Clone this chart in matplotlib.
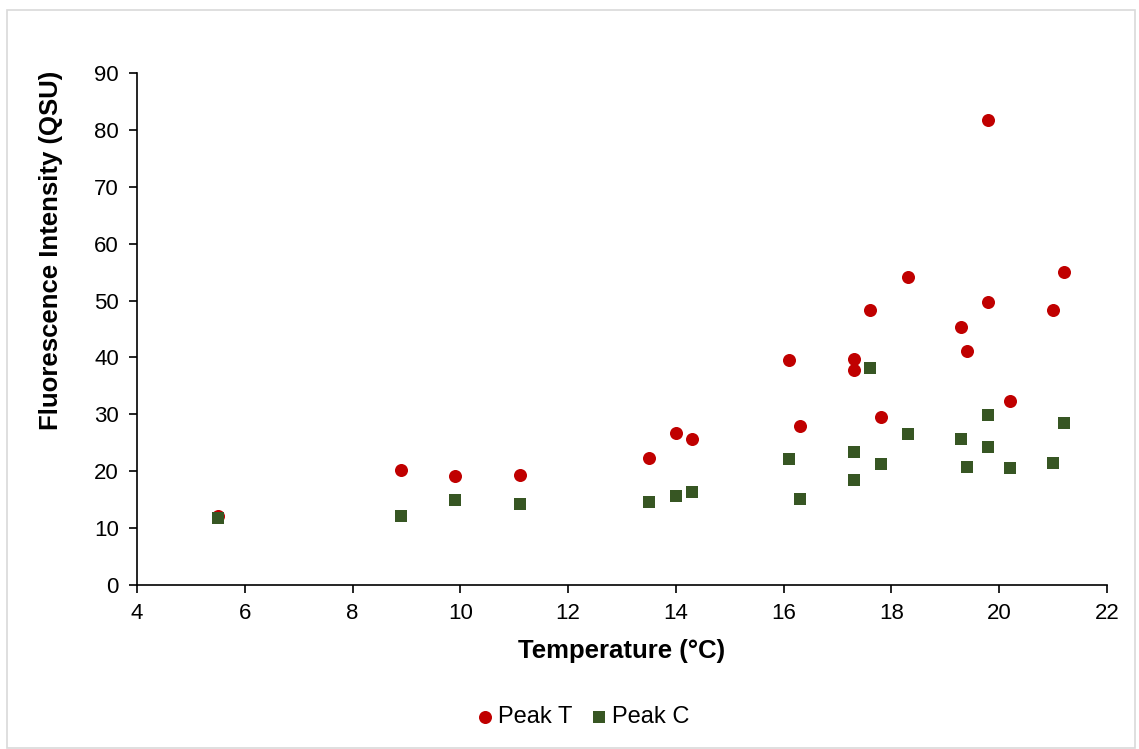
import matplotlib
matplotlib.use("Agg")
import matplotlib.pyplot as plt
from matplotlib.patches import Rectangle

plt.rcParams['font.family'] = ['Liberation Sans', 'DejaVu Sans']

temperature = [5.5, 8.9, 9.9, 11.1, 13.5, 14.0, 14.3, 16.1, 16.3, 17.3, 17.3,
               17.6, 17.8, 18.3, 19.3, 19.4, 19.8, 19.8, 20.2, 21.0, 21.2]
peak_t = [12.2, 20.3, 19.1, 19.4, 22.4, 26.8, 25.7, 39.6, 27.9, 39.7, 37.8,
          48.4, 29.5, 54.1, 45.3, 41.2, 81.8, 49.7, 32.4, 48.3, 55.1]
peak_c = [11.8, 12.2, 14.9, 14.2, 14.6, 15.6, 16.4, 22.1, 15.2, 23.3, 18.4,
          38.2, 21.3, 26.6, 25.6, 20.7, 29.8, 24.2, 20.5, 21.5, 28.5]

fig = plt.figure(figsize=(11.39, 7.49), dpi=100)
fig.patches.append(Rectangle((7/1139, 1/749), 1128/1139, 738/749, transform=fig.transFigure,
                             fill=False, edgecolor='#d9d9d9', linewidth=1.2))
ax = fig.add_axes([137/1139, 164/749, 970/1139, 512/749])

ax.scatter(temperature, peak_t, s=88, marker='o', color='#c00000', label='Peak T', zorder=3, linewidths=0)
ax.scatter(temperature, peak_c, s=80, marker='s', color='#375623', label='Peak C', zorder=3, linewidths=0)

ax.set_xlim(4, 22)
ax.set_ylim(0, 90)
ax.set_xticks(range(4, 23, 2))
ax.set_yticks(range(0, 91, 10))
for s in ['top', 'right']:
    ax.spines[s].set_visible(False)
for s in ['left', 'bottom']:
    ax.spines[s].set_color('black')
    ax.spines[s].set_linewidth(1.2)
ax.tick_params(axis='both', direction='out', length=6, width=1.2, labelsize=16, color='black')
ax.tick_params(axis='x', pad=7)
ax.tick_params(axis='y', pad=7)
ax.set_xlabel('Temperature (°C)', fontsize=18.5, fontweight='bold', labelpad=11)
ax.set_ylabel('Fluorescence Intensity (QSU)', fontsize=18.5, fontweight='bold', va='center')
ax.yaxis.set_label_coords(-0.089, 0.654)

fig.legend(loc='center', bbox_to_anchor=(0.512, 0.043), ncol=2, frameon=False, fontsize=17,
           handlelength=0.7, handletextpad=0.2, columnspacing=0.8, markerscale=1.0)

fig.savefig('out.png', dpi=100)
